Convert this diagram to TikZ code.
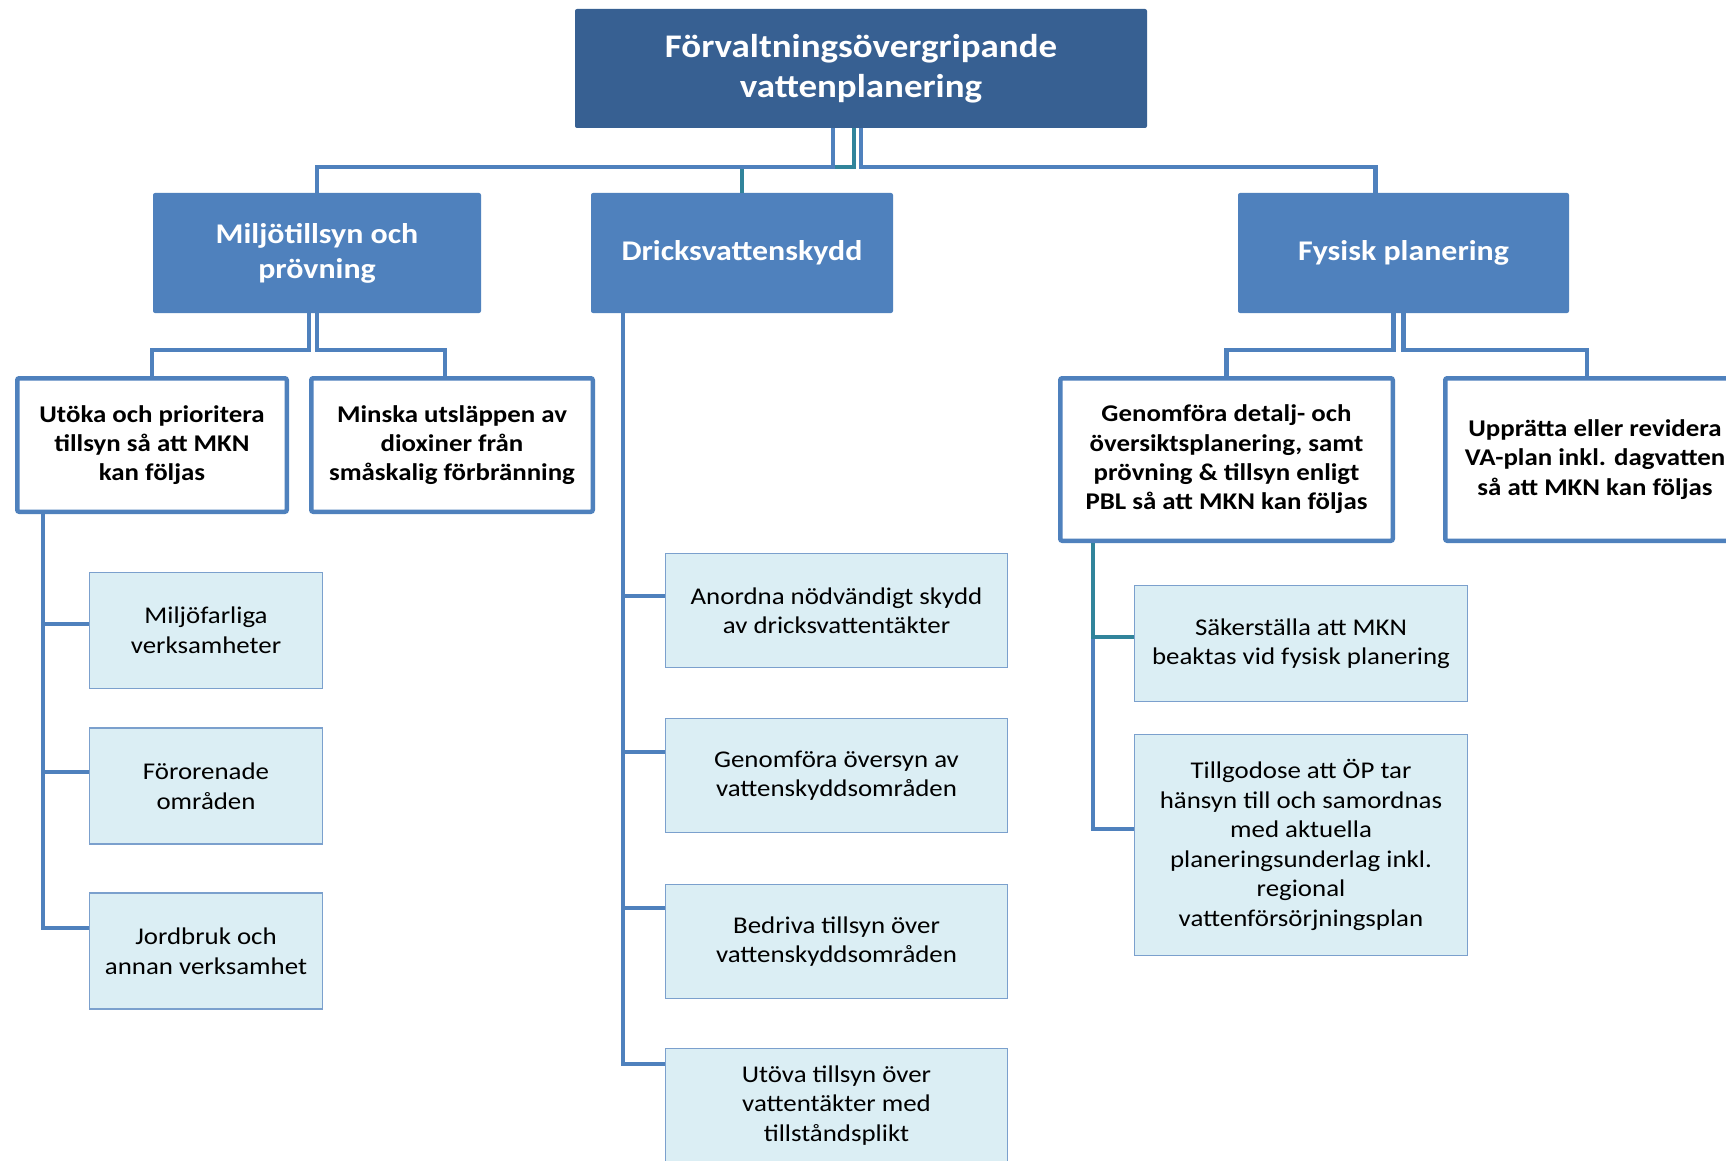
\documentclass[tikz,border=0pt]{standalone}
\usepackage{fontspec}
\setmainfont{Carlito}[FakeStretch=1.12]
\usetikzlibrary{calc}
\definecolor{topblue}{HTML}{376092}
\definecolor{midblue}{HTML}{4F81BD}
\definecolor{tealline}{HTML}{31849B}
\definecolor{lightfill}{HTML}{DBEEF4}
\definecolor{lightline}{HTML}{7BA0CD}
\tikzset{
  topbox/.style={fill=topblue, text=white, font=\bfseries\fontsize{33}{40.5}\selectfont, align=center, inner sep=0pt, rounded corners=2pt},
  lvlone/.style={fill=midblue, text=white, font=\bfseries\fontsize{28.5}{35}\selectfont, align=center, inner sep=0pt, rounded corners=2pt},
  lvltwo/.style={draw=midblue, line width=4.5pt, fill=white, text=black, font=\bfseries\fontsize{24}{29.3}\selectfont, align=center, inner sep=0pt, rounded corners=2pt},
  lvlthree/.style={draw=lightline, line width=1.3pt, fill=lightfill, text=black, font=\fontsize{24}{29.5}\selectfont, align=center, inner sep=0pt},
  conn/.style={draw=midblue, line width=4.5pt},
  connteal/.style={draw=tealline, line width=4.5pt}
}
\begin{document}
\begin{tikzpicture}[x=1pt,y=-1pt]
\useasboundingbox (0,0) rectangle (1726,1161);
\fill[white] (0,0) rectangle (1726,1161);
\clip (0,0) rectangle (1726,1161);

% level 0
\node[topbox, minimum width=572pt, minimum height=119pt] (top) at (861,68.5) {Förvaltningsövergripande\\vattenplanering};

% level 1
\node[lvlone, minimum width=328pt, minimum height=120pt] (miljo) at (317,253) {Miljötillsyn och\\prövning};
\node[lvlone, minimum width=302pt, minimum height=120pt] (dricks) at (742,253) {Dricksvattenskydd};
\node[lvlone, minimum width=331pt, minimum height=120pt] (fys) at (1403.5,253) {Fysisk planering};

% level 2
\node[lvltwo, minimum width=269.5pt, minimum height=133.5pt] (utoka) at (152,445) {Utöka och prioritera\\tillsyn så att MKN\\kan följas};
\node[lvltwo, minimum width=281.5pt, minimum height=133.5pt] (minska) at (452,445) {Minska utsläppen av\\dioxiner från\\småskalig förbränning};
\node[lvltwo, minimum width=332.5pt, minimum height=162.5pt] (genom) at (1226.5,459.5) {Genomföra detalj- och\\översiktsplanering, samt\\prövning \& tillsyn enligt\\PBL så att MKN kan följas};
\node[lvltwo, minimum width=299.5pt, minimum height=162.5pt] (upp) at (1595,459.5) {Upprätta eller revidera\\VA-plan inkl. dagvatten\\så att MKN kan följas};

% level 3 - Miljö
\node[lvlthree, minimum width=233pt, minimum height=116pt] (mf) at (206,630.5) {Miljöfarliga\\verksamheter};
\node[lvlthree, minimum width=233pt, minimum height=116pt] (fo) at (206,786) {Förorenade\\områden};
\node[lvlthree, minimum width=233pt, minimum height=116pt] (jb) at (206,951) {Jordbruk och\\annan verksamhet};

% level 3 - Dricks
\node[lvlthree, minimum width=342pt, minimum height=114pt] (an) at (836.5,610.5) {Anordna nödvändigt skydd\\av dricksvattentäkter};
\node[lvlthree, minimum width=342pt, minimum height=114pt] (go) at (836.5,775.5) {Genomföra översyn av\\vattenskyddsområden};
\node[lvlthree, minimum width=342pt, minimum height=114pt] (be) at (836.5,941.5) {Bedriva tillsyn över\\vattenskyddsområden};
\node[lvlthree, minimum width=342pt, minimum height=114pt] (ut) at (836.5,1105.5) {Utöva tillsyn över\\vattentäkter med\\tillståndsplikt};

% level 3 - Fysisk
\node[lvlthree, minimum width=333pt, minimum height=116pt] (sak) at (1301,643.5) {Säkerställa att MKN\\beaktas vid fysisk planering};
\node[lvlthree, minimum width=333pt, minimum height=221pt] (till) at (1301,845) {Tillgodose att ÖP tar\\hänsyn till och samordnas\\med aktuella\\planeringsunderlag inkl.\\regional\\vattenförsörjningsplan};

% connectors from top
\draw[connteal] ($(top.south)+(-7,0)$) -- ++(0,39) -| (dricks.north);
\draw[conn] ($(top.south)+(-28,0)$) -- ++(0,39) -| (miljo.north);
\draw[conn] (top.south) -- ++(0,39) -| ($(fys.north)+(-28,0)$);

% Miljö to level 2
\draw[conn] ($(miljo.south)+(-8,0)$) -- ++(0,37) -| (utoka.north);
\draw[conn] (miljo.south) -- ++(0,37) -| ($(minska.north)+(-7,0)$);

% Fysisk to level 2
\draw[conn] ($(fys.south)+(-10,0)$) -- ++(0,37) -| (genom.north);
\draw[conn] (fys.south) -- ++(0,37) -| ($(upp.north)+(-8,0)$);

% Utöka to level 3
\draw[conn] ($(utoka.south west)+(28,0)$) |- ($(mf.west)+(0,-6.5)$);
\draw[conn] ($(utoka.south west)+(28,0)$) |- ($(fo.west)+(0,-14)$);
\draw[conn] ($(utoka.south west)+(28,0)$) |- ($(jb.west)+(0,-23)$);

% Dricks to level 3
\draw[conn] ($(dricks.south west)+(32,0)$) |- ($(an.west)+(0,-14.5)$);
\draw[conn] ($(dricks.south west)+(32,0)$) |- ($(go.west)+(0,-23.5)$);
\draw[conn] ($(dricks.south west)+(32,0)$) |- ($(be.west)+(0,-33.5)$);
\draw[conn] ($(dricks.south west)+(32,0)$) |- ($(ut.west)+(0,-41.5)$);

% Genomföra to level 3
\draw[conn] ($(sak.west)+(-41,-6.5)$) |- ($(till.west)+(0,-16)$);
\draw[connteal] ($(genom.south west)+(35,0)$) |- ($(sak.west)+(0,-6.5)$);
\end{tikzpicture}
\end{document}
